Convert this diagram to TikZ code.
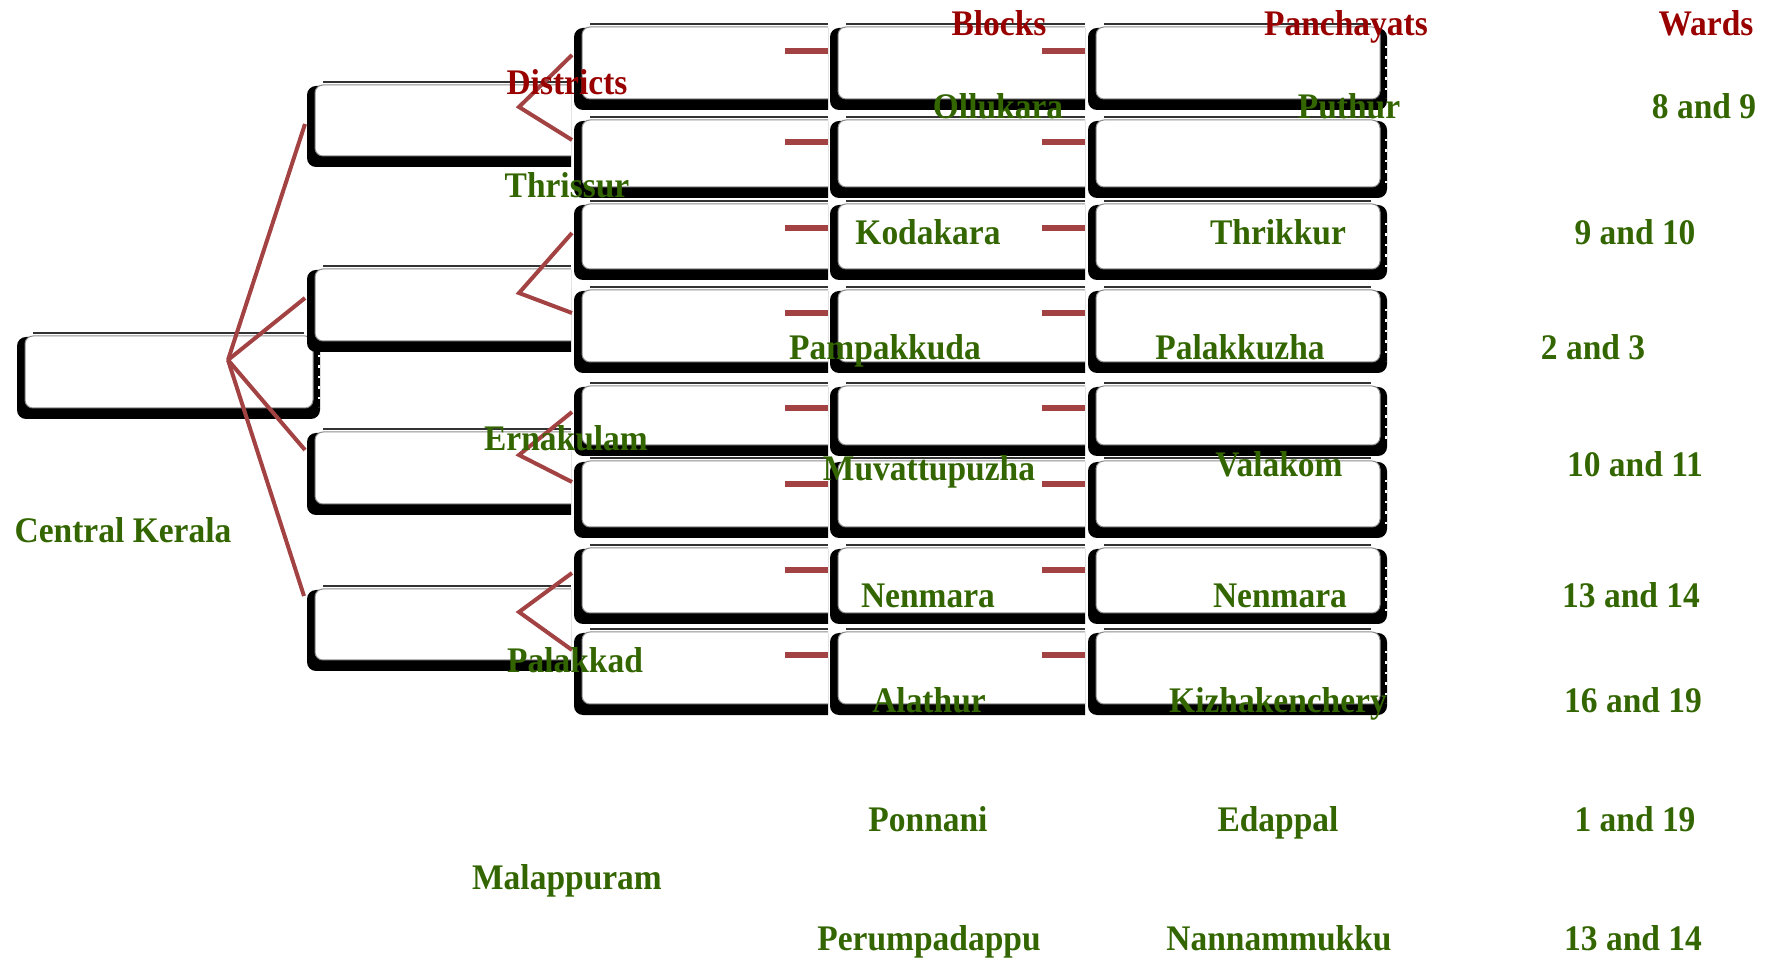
\documentclass[tikz,border=0pt]{standalone}
\usepackage{fontspec}
\setmainfont{Liberation Serif}[FakeStretch=0.93]
\usetikzlibrary{fit}

\definecolor{linkred}{RGB}{163,66,66}
\definecolor{headred}{RGB}{153,0,0}
\definecolor{placegreen}{RGB}{51,102,0}

\tikzset{
  x=0.5pt, y=-0.5pt,
  conn/.style={linkred, line width=2pt, line join=miter},
  stub/.style={linkred, line width=2.6pt},
  txt/.style={font=\fontsize{18}{21}\selectfont\bfseries, anchor=base, inner sep=0pt},
  head/.style={txt, headred},
  place/.style={txt, placegreen},
  boxarea/.style={inner sep=0pt},
}

% body of a bevelled box: black base, white face, thin rule on top
% #1 x1, #2 y1, #3 right end of black base, #4 y2, #5 end of the top rule
\newcommand\boxbody[5]{%
  \fill[black, rounded corners=4.5pt] ({#1},{#2+4}) rectangle ({#3},{#4});
  \filldraw[fill=white, draw=black!45, line width=0.5pt, rounded corners=4pt]
    ({#1+8},{#2+3}) rectangle ({#3-7},{#4-11});
  \draw[black!80, line width=0.7pt] ({#1+16},{#2}) -- ({#5},{#2});
}
% box cut off straight at its right edge
\newcommand\cutbox[5]{%
  \begin{scope}
    \clip ({#2-5},{#3-5}) rectangle ({#4},{#5+5});
    \boxbody{#2}{#3}{#4+30}{#5}{#4}
  \end{scope}
  \node[boxarea, fit={(#2,#3) (#4,#5)}] (#1) {};
}
% full box with a notched right edge
\newcommand\notchbox[5]{%
  \boxbody{#2}{#3}{#4}{#5}{#4-16}
  \draw[white, line width=1.2pt, dash pattern=on 1.2pt off 4pt]
    ({#4-1},{#3+22}) -- ({#4-1},{#5-12});
  \node[boxarea, fit={(#2,#3) (#4,#5)}] (#1) {};
}

\begin{document}
\begin{tikzpicture}
\useasboundingbox (0,0) rectangle (1766,961);

% region
\notchbox{ck}{17}{333}{320}{419}

% districts
\cutbox{d1}{307}{82}{571}{167}
\cutbox{d2}{307}{266}{571}{352}
\cutbox{d3}{307}{429}{571}{515}
\cutbox{d4}{307}{586}{571}{671}

% blocks, panchayats, wards columns
\foreach \r/\ya/\yb in {1/24/110, 2/117/198, 3/201/280, 4/287/373,
                        5/383/456, 6/458/538, 7/545/624, 8/629/715}{
  \cutbox{c\r}{574}{\ya}{828}{\yb}
  \cutbox{b\r}{830}{\ya}{1085}{\yb}
  \notchbox{p\r}{1088}{\ya}{1387}{\yb}
}

% fan from the region to the districts
\coordinate (fa) at (228,360);
\coordinate (fa1) at (305,124);
\coordinate (fa2) at (305,298);
\coordinate (fa3) at (305,450);
\coordinate (fa4) at (304,596);
\foreach \i in {1,...,4}{\draw[conn] (fa) -- (fa\i);}

% forks from each district to its two rows
\coordinate (fb1) at (519,107);
\coordinate (fb2) at (519,293);
\coordinate (fb3) at (519,455);
\coordinate (fb4) at (519,612);
\coordinate (e1) at (572,55);
\coordinate (e2) at (572,140);
\coordinate (e3) at (572,233);
\coordinate (e4) at (572,313);
\coordinate (e5) at (572,412);
\coordinate (e6) at (572,482);
\coordinate (e7) at (572,573);
\coordinate (e8) at (572,650);
\draw[conn] (e1) -- (fb1) -- (e2);
\draw[conn] (e3) -- (fb2) -- (e4);
\draw[conn] (e5) -- (fb3) -- (e6);
\draw[conn] (e7) -- (fb4) -- (e8);

% short links between the columns
\foreach \r/\y in {1/51, 2/142, 3/228, 4/313, 5/408, 6/484, 7/570, 8/655}{
  \coordinate (sc\r) at (785,\y);
  \coordinate (tc\r) at (828,\y);
  \coordinate (sb\r) at (1042,\y);
  \coordinate (tb\r) at (1085,\y);
  \draw[stub] (sc\r) -- (tc\r);
  \draw[stub] (sb\r) -- (tb\r);
}

% headings
\node[head] (hd) at (567,95) {Districts};
\node[head] (hb) at (999,36) {Blocks};
\node[head] (hp) at (1346,36) {Panchayats};
\node[head] (hw) at (1706,36) {Wards};

% names
\node[place] (nck) at (123,543) {Central Kerala};
\node[place] (nd1) at (567,198) {Thrissur};
\node[place] (nd2) at (566,451) {Ernakulam};
\node[place] (nd3) at (575,673) {Palakkad};
\node[place] (nd4) at (567,889) {Malappuram};

\node[place] (nb1) at (998,119) {Ollukara};
\node[place] (np1) at (1349,119) {Puthur};
\node[place] (nw1) at (1704,119) {8 and 9};

\node[place] (nb2) at (928,245) {Kodakara};
\node[place] (np2) at (1278,245) {Thrikkur};
\node[place] (nw2) at (1635,245) {9 and 10};

\node[place] (nb3) at (885,360) {Pampakkuda};
\node[place] (np3) at (1240,360) {Palakkuzha};
\node[place] (nw3) at (1593,360) {2 and 3};

\node[place] (nb4) at (929,481) {Muvattupuzha};
\node[place] (np4) at (1279,477) {Valakom};
\node[place] (nw4) at (1635,477) {10 and 11};

\node[place] (nb5) at (928,608) {Nenmara};
\node[place] (np5) at (1280,608) {Nenmara};
\node[place] (nw5) at (1631,608) {13 and 14};

\node[place] (nb6) at (929,712) {Alathur};
\node[place] (np6) at (1278,712) {Kizhakenchery};
\node[place] (nw6) at (1633,712) {16 and 19};

\node[place] (nb7) at (928,831) {Ponnani};
\node[place] (np7) at (1278,831) {Edappal};
\node[place] (nw7) at (1635,831) {1 and 19};

\node[place] (nb8) at (929,950) {Perumpadappu};
\node[place] (np8) at (1279,950) {Nannammukku};
\node[place] (nw8) at (1633,950) {13 and 14};
\end{tikzpicture}
\end{document}
